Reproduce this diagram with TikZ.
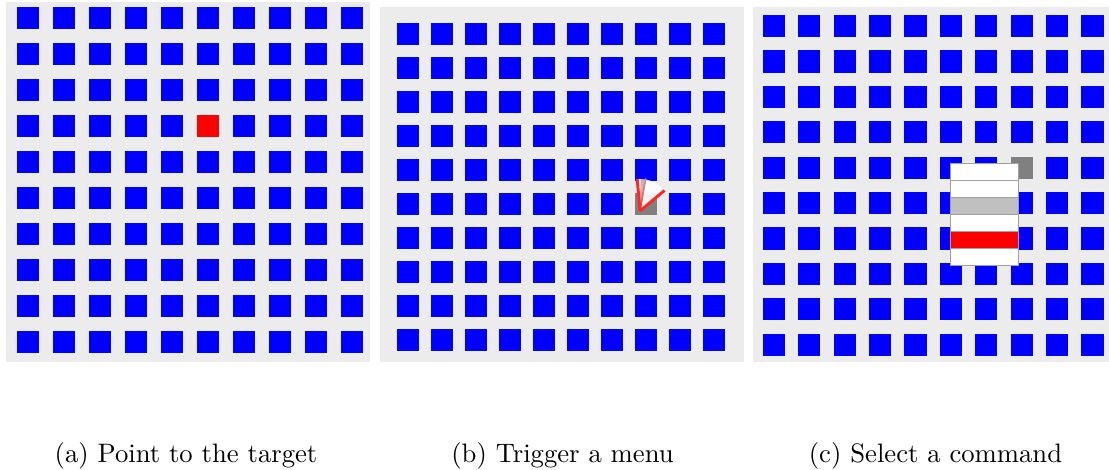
\documentclass[tikz,border=0pt]{standalone}
\usepackage{tikz}
\definecolor{panelgray}{RGB}{236,236,236}
\definecolor{cellblue}{RGB}{0,0,255}
\definecolor{hitred}{RGB}{255,0,0}
\definecolor{pickgray}{RGB}{128,128,128}
\definecolor{itemgray}{RGB}{192,192,192}
\definecolor{framegray}{RGB}{160,160,160}

\begin{document}
\begin{tikzpicture}[
    x=0.375pt, y=-0.375pt,
    panel/.style={fill=panelgray},
    cell/.style={fill=cellblue},
    target/.style={fill=hitred},
    picked/.style={fill=pickgray},
    fan/.style={fill=white, fill opacity=0.9},
    fanedge/.style={draw=hitred!85!white, line width=1.1pt},
    fanline/.style={draw=gray!80, line width=0.6pt},
    menuitem/.style={fill=white},
    menuline/.style={draw=framegray, line width=0.4pt},
    caption/.style={anchor=base, font=\normalsize}
  ]
  \useasboundingbox (0,0) rectangle (1109,470);

  % panel (a)
  \fill[panel] (6,2) rectangle (370,362);
  \foreach \i in {0,...,9}
    \foreach \j in {0,...,9}
      \fill[cell] ({17+36*\i},{7+36*\j}) rectangle ++(22,22);
  \fill[target] (197,115) rectangle ++(22,22);

  % panel (b)
  \fill[panel] (380,7) rectangle (744,362);
  \foreach \i in {0,...,9}
    \foreach \j in {0,...,9}
      \fill[cell] ({397.3+34*\i},{23.3+34*\j}) rectangle ++(21.3,21.3);
  \fill[picked] (635.3,193.3) rectangle ++(21.3,21.3);
  \begin{scope}[shift={(640,211)}, y=0.375pt]
    \fill[fan] (0,0) -- (95:32) arc[start angle=95, end angle=40, radius=32] -- cycle;
    \draw[fanline] (0,0) -- (80:33);
    \draw[fanedge, draw opacity=0.45] (0,0) -- (85:32);
    \draw[fanedge] (0,0) -- (95:32);
    \draw[fanedge] (0,0) -- (40:32);
  \end{scope}

  % panel (c)
  \fill[panel] (752.7,6.7) rectangle (1109,362);
  \foreach \i in {0,...,9}
    \foreach \j in {0,...,9}
      \fill[cell] ({762.7+35.4*\i},{15+35.4*\j}) rectangle ++(22.3,22.3);
  \fill[picked] (1010.5,156.6) rectangle ++(22.3,22.3);
  \fill[menuitem] (950.7,163.3) rectangle (1018.7,265.3);
  \fill[fill=itemgray] (950.7,197.3) rectangle (1018.7,214.3);
  \fill[fill=hitred] (950.7,231.3) rectangle (1018.7,248.3);
  \foreach \k in {1,...,5}
    \draw[menuline] (950.7,{163.3+17*\k}) -- (1018.7,{163.3+17*\k});
  \draw[menuline] (950.7,163.3) rectangle (1018.7,265.3);

  % captions
  \node[caption] (capa) at (186,462) {(a) Point to the target};
  \node[caption] (capb) at (562.5,462) {(b) Trigger a menu};
  \node[caption] (capc) at (935.5,462) {(c) Select a command};
\end{tikzpicture}
\end{document}
